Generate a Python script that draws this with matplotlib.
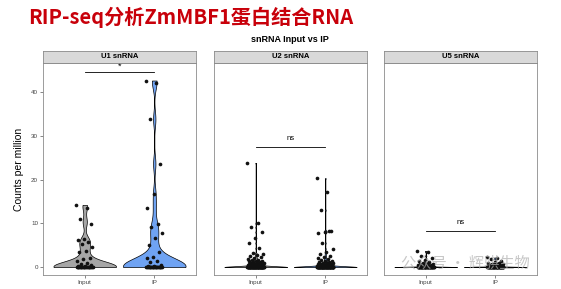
import numpy as np
import matplotlib
matplotlib.use("Agg")
import matplotlib.pyplot as plt

plt.rcParams['font.family'] = ['Liberation Sans', 'DejaVu Sans']

# 数据 (从图中估读, Counts per million)
panels = ["U1 snRNA", "U2 snRNA", "U5 snRNA"]
groups = ["Input", "IP"]

u1_input = [14.2, 13.6, 10.9, 9.8, 6.4, 6.1, 5.8, 5.3, 4.5, 3.6, 3.4, 2.0, 1.8,
            1.3, 1.0, 0.7, 0.5, 0.3, 0.2, 0.1] + [0.0] * 20
u1_ip = [42.6, 42.1, 33.8, 23.6, 16.8, 13.6, 9.8, 9.1, 7.8, 6.7, 5.1, 3.4, 2.3,
         2.1, 1.5, 1.2, 0.5, 0.3, 0.2, 0.1] + [0.0] * 20
u2_input = [23.8, 10.0, 9.1, 8.0, 6.6, 5.5, 4.3, 3.2, 3.0, 2.8, 2.5, 2.2, 2.0,
            1.9, 1.7, 1.6, 1.5, 1.4, 1.3, 1.2, 1.1, 1.0, 1.0, 0.9, 0.9, 0.8,
            0.8, 0.7, 0.7, 0.6, 0.6, 0.5, 0.5, 0.5, 0.4, 0.4, 0.4, 0.3, 0.3,
            0.3, 0.3, 0.2, 0.2, 0.2, 0.2, 0.1, 0.1, 0.1, 0.1, 0.1] + [0.0] * 60
u2_ip = [20.3, 17.1, 13.0, 8.3, 8.0, 7.9, 8.2, 5.5, 4.2, 3.4, 3.0, 2.6, 2.3,
         2.0, 1.8, 1.6, 1.5, 1.3, 1.2, 1.1, 1.0, 0.9, 0.9, 0.8, 0.8, 0.7,
         0.7, 0.6, 0.6, 0.5, 0.5, 0.4, 0.4, 0.4, 0.3, 0.3, 0.3, 0.2, 0.2,
         0.2, 0.2, 0.1, 0.1, 0.1, 0.1] + [0.0] * 60
u5_input = [3.7, 3.5, 2.6, 2.1, 1.6, 1.3, 1.1, 0.9, 0.8, 0.7, 0.6, 0.5, 0.5,
            0.4, 0.4, 0.3, 0.3, 0.2, 0.2, 0.1, 0.1] + [0.0] * 40
u5_ip = [2.2, 2.0, 1.9, 1.5, 1.2, 1.0, 0.9, 0.8, 0.7, 0.6, 0.5, 0.5, 0.4,
         0.4, 0.3, 0.3, 0.2, 0.2, 0.1, 0.1] + [0.0] * 40

panel_data = [(u1_input, u1_ip), (u2_input, u2_ip), (u5_input, u5_ip)]
sig_labels = ["*", "ns", "ns"]
sig_heights = [44.5, 27.4, 8.2]

colors = {"Input": "#a6a6a6", "IP": "#6fa3f3"}


def nrd0(x):
    x = np.asarray(x, float)
    sd = x.std(ddof=1)
    iqr = np.subtract(*np.percentile(x, [75, 25]))
    lo = min(sd, iqr / 1.34) if iqr > 0 else sd
    return 0.9 * lo * len(x) ** -0.2


def violin(ax, vals, pos, color):
    vals = np.asarray(vals, float)
    bw = nrd0(vals)
    grid = np.linspace(vals.min(), vals.max(), 512)
    dens = np.exp(-0.5 * ((grid[:, None] - vals[None, :]) / bw) ** 2).sum(axis=1)
    w = dens / dens.max() * 0.45
    ax.fill_betweenx(grid, pos - w, pos + w, facecolor=color,
                     edgecolor="black", linewidth=0.5, zorder=2)


fig = plt.figure(figsize=(5.61, 2.89), dpi=100)

fig.text(28 / 561, 1 - 17 / 289, "RIP-seq分析ZmMBF1蛋白结合RNA",
         family=['Noto Sans CJK SC', 'DejaVu Sans'], fontweight='bold',
         fontsize=14.5, color="#c8000a", ha="left", va="center")
fig.text(290 / 561, 1 - 40 / 289, "snRNA Input vs IP", fontsize=6.5,
         fontweight='bold', ha="center", va="center")

lefts = [43, 214, 384]
for i, (name, (d_in, d_ip)) in enumerate(zip(panels, panel_data)):
    ax = fig.add_axes([lefts[i] / 561, 14 / 289, 153 / 561, 212 / 289])
    for pos, grp, vals in [(1, "Input", d_in), (2, "IP", d_ip)]:
        violin(ax, vals, pos, colors[grp])
        n = len(vals)
        jit = ((np.arange(n) * 0.618034) % 1 - 0.5) * 0.24
        ax.scatter(pos + jit, vals, s=7, color="#111111", zorder=3,
                   linewidths=0)
    y = sig_heights[i]
    ax.plot([1, 2], [y, y], color="black", linewidth=0.6)
    ax.text(1.5, y + (0.4 if sig_labels[i] == "*" else 1.2), sig_labels[i],
            ha="center", va="bottom", fontsize=5.5 if sig_labels[i] == "ns" else 6.5)
    ax.set_xlim(0.4, 2.6)
    ax.set_ylim(-1.8, 46.6)
    ax.set_xticks([1, 2])
    ax.set_xticklabels(groups)
    ax.set_yticks([0, 10, 20, 30, 40])
    ax.tick_params(labelsize=4.5, length=2, width=0.5, color="#555555",
                   labelcolor="#444444", pad=1.5)
    if i > 0:
        ax.tick_params(axis='y', left=False, labelleft=False)
    else:
        ax.set_ylabel("Counts per million", fontsize=7.5, labelpad=5)
    for sp in ax.spines.values():
        sp.set_color("#8c8c8c")
        sp.set_linewidth(0.6)

    sax = fig.add_axes([lefts[i] / 561, 1 - 63 / 289, 153 / 561, 12 / 289])
    sax.set_facecolor("#d9d9d9")
    sax.set_xticks([])
    sax.set_yticks([])
    for sp in sax.spines.values():
        sp.set_color("#8c8c8c")
        sp.set_linewidth(0.6)
    sax.text(0.5, 0.5, name, ha="center", va="center", fontsize=5.5,
             fontweight='bold', transform=sax.transAxes)

# 水印
fig.text(465 / 561, 1 - 263 / 289, "公众号 · 辉骐生物",
         family=['Noto Sans CJK SC', 'DejaVu Sans'], fontsize=11,
         color="#b0b0b0", alpha=0.7, ha="center", va="center")

fig.savefig("out.png", dpi=100)
